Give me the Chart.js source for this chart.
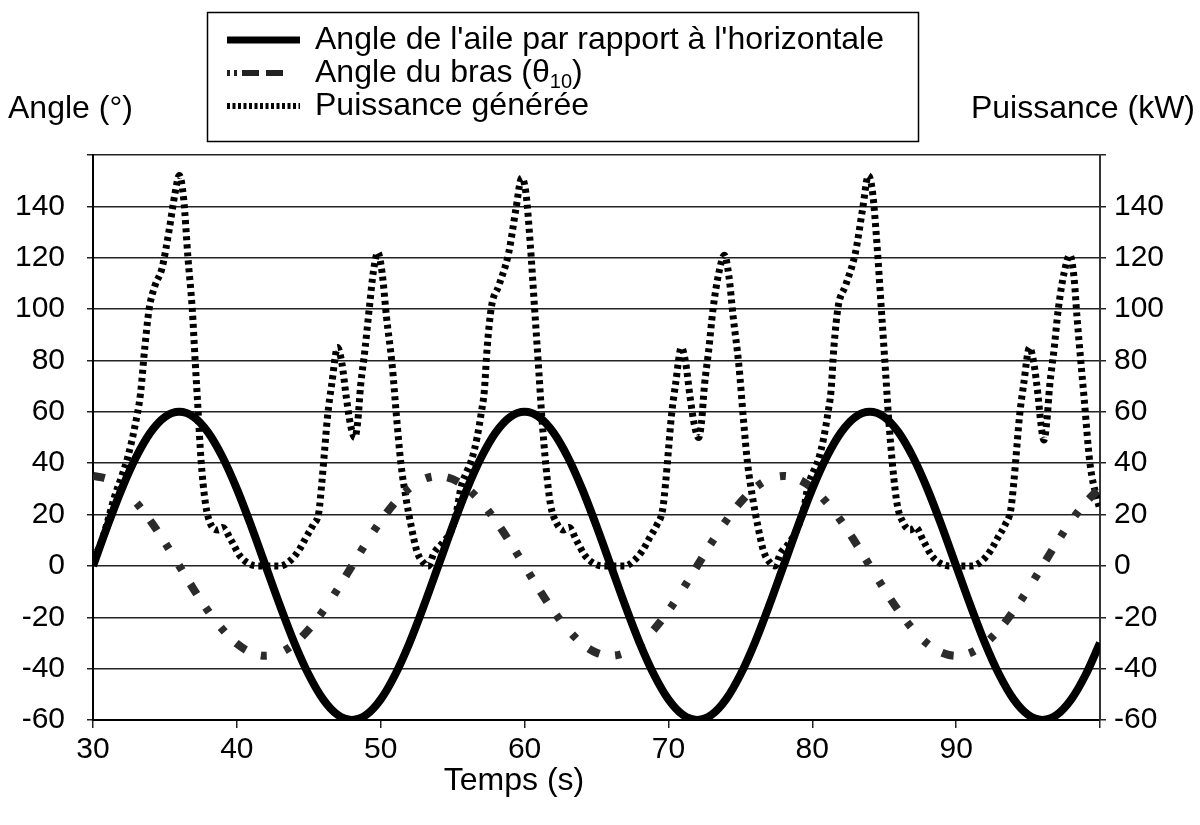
<!DOCTYPE html>
<html>
<head>
<meta charset="utf-8">
<script src="https://cdn.jsdelivr.net/npm/chart.js@4"></script>
<style>
html, body { margin: 0; padding: 0; background: #fff; }
#wrap { width: 1200px; height: 825px; position: relative; }
</style>
</head>
<body>
<div id="wrap"><canvas id="chart"></canvas></div>
<script>
// temps (s), pas de 1 s
const timeSteps = [30,31,32,33,34,35,36,37,38,39,40,41,42,43,44,45,46,47,48,49,
  50,51,52,53,54,55,56,57,58,59,60,61,62,63,64,65,66,67,68,69,
  70,71,72,73,74,75,76,77,78,79,80,81,82,83,84,85,86,87,88,89,
  90,91,92,93,94,95,96,97,98,99,100];

// angle de l'aile (deg)
const wingAngle = [0,15.5,30,42.4,52,58,60,58,52,42.4,30,15.5,0,-15.5,-30,-42.4,-52,-58,-60,-58,-52,-42.4,-30,-15.5,
  0,15.5,30,42.4,52,58,60,58,52,42.4,30,15.5,0,-15.5,-30,-42.4,-52,-58,-60,-58,-52,-42.4,-30,-15.5,
  0,15.5,30,42.4,52,58,60,58,52,42.4,30,15.5,0,-15.5,-30,-42.4,-52,-58,-60,-58,-52,-42.4,-30];

// angle du bras theta10 (deg)
const armAngle = [35,33.8,30.3,24.7,17.5,9.1,0,-9.1,-17.5,-24.7,-30.3,-33.8,-35,-33.8,-30.3,-24.7,-17.5,-9.1,0,9.1,17.5,24.7,30.3,33.8,
  35,33.8,30.3,24.7,17.5,9.1,0,-9.1,-17.5,-24.7,-30.3,-33.8,-35,-33.8,-30.3,-24.7,-17.5,-9.1,0,9.1,17.5,24.7,30.3,33.8,
  35,33.8,30.3,24.7,17.5,9.1,0,-9.1,-17.5,-24.7,-30.3,-33.8,-35,-33.8,-30.3,-24.7,-17.5,-9.1,0,9.1,17.5,24.7,30.3];

// puissance générée (kW)
const powerTimes = [30,30.5,31,31.5,32,32.4,32.9,33.3,33.6,33.9,34.3,34.8,35.3,35.7,36,36.3,36.6,36.9,37.1,37.3,
  37.5,37.8,38.2,38.7,39,39.6,40.2,40.8,41.4,42.3,43,43.7,44.3,44.8,45.3,45.7,45.9,46.1,46.3,46.6,
  47,47.3,47.6,47.9,48.2,48.4,48.6,48.9,49.2,49.5,49.8,50.1,50.4,50.8,51.1,51.4,51.8,52.1,52.5,53,53.3,
  53.7,54.3,55,55.3,55.6,56,56.3,56.7,57,57.2,57.4,57.7,58.2,58.9,59.4,59.8,60.1,60.4,60.7,61,
  61.2,61.5,61.8,62.2,62.7,63.1,63.6,64.2,64.8,65.4,66.3,67,67.6,68.2,68.7,69.2,69.6,69.8,70,70.2,
  70.5,70.9,71.2,71.5,71.8,72.1,72.3,72.5,72.8,73.1,73.5,73.9,74.2,74.5,74.9,75.2,75.5,75.9,76.2,76.6,77.1,77.4,
  77.8,78.4,79,79.4,79.7,80.1,80.4,80.8,81.1,81.3,81.5,81.8,82.3,83,83.5,83.9,84.2,84.5,84.8,85.1,
  85.3,85.6,85.9,86.3,86.8,87.2,87.7,88.3,88.9,89.5,90.4,91.1,91.8,92.4,92.9,93.4,93.8,94,94.2,94.4,
  94.7,95.1,95.4,95.7,95.9,96.1,96.3,96.5,96.8,97.1,97.5,97.9,98.2,98.4,98.9,99.3,99.8,100];
const powerValues = [3,8,17,27,35,42,54,67,85,100,109,116,131,145,152,143,120,100,80,61,
  42,25,16,14,15,10,4,1,0,0,0,2,6,11,16,21,32,45,58,71,
  85,79,66,55,50,56,70,84,100,115,122,114,97,78,58,40,25,16,6,1,0,
  5,9,15,22,31,37,41,50,60,68,85,101,109,122,139,151,145,125,100,75,
  58,38,24,17,14,15,10,4,1,0,0,0,2,6,11,16,22,32,45,58,
  71,85,79,66,55,50,56,70,84,100,114,121,113,97,78,58,40,25,16,6,1,0,
  5,9,15,22,31,37,41,50,60,68,85,101,109,122,139,152,145,125,100,75,
  58,38,24,17,14,15,10,4,1,0,0,0,2,6,11,16,22,32,45,58,
  71,85,79,66,55,49,56,70,84,100,114,121,112,97,65,40,26,22];

const angleTicks = [-60,-40,-20,0,20,40,60,80,100,120,140];
const timeTicks = [30,40,50,60,70,80,90];

const FONT = '"Liberation Sans", Arial, sans-serif';
Chart.defaults.font.family = FONT;
Chart.defaults.font.size = 30;
Chart.defaults.color = '#000';

const overlay = {
  id: 'overlay',
  afterDraw(chart) {
    const ctx = chart.ctx;
    ctx.save();
    ctx.fillStyle = '#000';
    ctx.font = '32px ' + FONT;
    ctx.textBaseline = 'middle';
    ctx.textAlign = 'left';
    ctx.fillText('Angle (°)', 8, 109);
    ctx.textAlign = 'right';
    ctx.fillText('Puissance (kW)', 1195, 109);
    ctx.textAlign = 'center';
    ctx.fillText('Temps (s)', 514, 781);

    // légende
    ctx.lineWidth = 1.5;
    ctx.strokeStyle = '#000';
    ctx.strokeRect(207.5, 12.5, 711, 129);

    const x0 = 227, x1 = 300, tx = 315;
    ctx.lineCap = 'butt';
    ctx.lineWidth = 7;
    ctx.setLineDash([]);
    ctx.beginPath(); ctx.moveTo(x0, 40); ctx.lineTo(x1, 40); ctx.stroke();

    ctx.lineWidth = 6;
    ctx.strokeStyle = '#222';
    ctx.setLineDash([3, 4, 3, 5, 17, 7, 17, 20]);
    ctx.beginPath(); ctx.moveTo(x0, 73); ctx.lineTo(x1, 73); ctx.stroke();

    ctx.strokeStyle = '#000';
    ctx.setLineDash([3, 2.5]);
    ctx.beginPath(); ctx.moveTo(x0, 106); ctx.lineTo(x1, 106); ctx.stroke();
    ctx.setLineDash([]);

    ctx.textAlign = 'left';
    ctx.fillText("Angle de l'aile par rapport à l'horizontale", tx, 40);

    const p1 = 'Angle du bras (θ';
    ctx.fillText(p1, tx, 73);
    let w = ctx.measureText(p1).width;
    ctx.font = '20px ' + FONT;
    ctx.fillText('10', tx + w, 82);
    w += ctx.measureText('10').width;
    ctx.font = '32px ' + FONT;
    ctx.fillText(')', tx + w, 73);

    ctx.fillText('Puissance générée', tx, 106);
    ctx.restore();
  }
};

const pts = (xs, ys) => xs.map((x, i) => ({ x: x, y: ys[i] }));

new Chart(document.getElementById('chart'), {
  type: 'line',
  data: {
    datasets: [
      {
        label: "Angle de l'aile par rapport à l'horizontale",
        data: pts(timeSteps, wingAngle),
        borderColor: '#000', borderWidth: 8, pointRadius: 0,
        cubicInterpolationMode: 'monotone', yAxisID: 'y'
      },
      {
        label: 'Angle du bras (θ10)',
        data: pts(timeSteps, armAngle),
        borderColor: '#2b2b2b', borderWidth: 8, pointRadius: 0,
        borderDash: [12, 16, 6, 19, 6, 16],
        cubicInterpolationMode: 'monotone', yAxisID: 'y'
      },
      {
        label: 'Puissance générée',
        data: pts(powerTimes, powerValues),
        borderColor: '#000', borderWidth: 7, pointRadius: 0,
        borderDash: [4, 4],
        cubicInterpolationMode: 'monotone', yAxisID: 'y2'
      }
    ]
  },
  options: {
    responsive: true,
    maintainAspectRatio: false,
    animation: false,
    layout: { padding: { top: 155, left: 0, right: 0, bottom: 0 } },
    plugins: { legend: { display: false }, tooltip: { enabled: false } },
    scales: {
      x: {
        type: 'linear', min: 30, max: 100,
        ticks: {
          stepSize: 10, padding: 4, maxRotation: 0,
          callback: v => timeTicks.includes(v) ? String(v) : ''
        },
        grid: { drawOnChartArea: false, tickLength: 8, color: '#222', lineWidth: 1.5 },
        border: { color: '#000', width: 2 },
        afterFit: s => { s.height = 105; }
      },
      y: {
        position: 'left', min: -60, max: 160,
        ticks: {
          stepSize: 20, padding: 22,
          callback: v => angleTicks.includes(v) ? String(v) : ''
        },
        grid: { color: '#222', lineWidth: 1.5, tickLength: 6 },
        border: { color: '#000', width: 2 },
        afterFit: s => { s.width = 93; }
      },
      y2: {
        position: 'right', min: -60, max: 160,
        ticks: {
          stepSize: 20, padding: 8,
          callback: v => angleTicks.includes(v) ? String(v) : ''
        },
        grid: { drawOnChartArea: false, color: '#222', lineWidth: 1.5, tickLength: 6 },
        border: { color: '#333', width: 2 },
        afterFit: s => { s.width = 100; }
      }
    }
  },
  plugins: [overlay]
});
</script>
</body>
</html>
